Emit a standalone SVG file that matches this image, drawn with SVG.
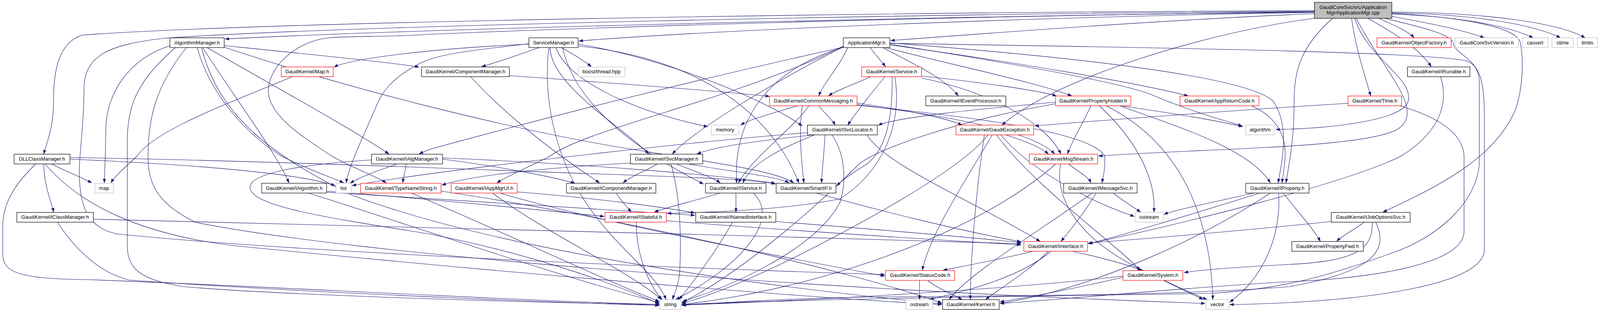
<svg xmlns="http://www.w3.org/2000/svg" width="4385" height="800" viewBox="0 0 4385 800">
<defs>
<style>
.n rect{fill:#fff;stroke:#000;stroke-width:1.2}
.n.r rect{stroke:#ff0000}
.n.g rect{stroke:#bfbfbf}
.n.root rect{fill:#bfbfbf}
.n text{font-family:"Liberation Sans",Arial,sans-serif;font-size:13px;text-anchor:middle;fill:#000}
.e path{fill:none;stroke:#191970;stroke-width:1.1;marker-end:url(#arr)}
</style>
<marker id="arr" markerUnits="userSpaceOnUse" markerWidth="11" markerHeight="8" viewBox="0 0 11 8" refX="10.5" refY="4" orient="auto"><path d="M0,0 L11,4 L0,8 z" fill="#191970"/></marker>
</defs>
<rect x="0" y="0" width="4385" height="800" fill="#fff"/>
<g id="edges" class="e">
<path d="M3365,30 C 2600,40 1200,68 576,100"/>
<path d="M3365,32 C 2800,40 1900,72 1482,105"/>
<path d="M3365,35 C 3000,50 2600,80 2280,104"/>
<path d="M3365,27 C 2200,32 700,55 210,90 C 150,110 137,180 137,260 C 137,330 118,370 112,395"/>
<path d="M3365,29 C 2300,36 900,65 420,98 C 280,115 215,140 215,230 C 215,320 203,390 203,440 C 203,540 230,585 300,600 C 700,640 1500,680 2265,704"/>
<path d="M3365,31 C 2400,40 1400,75 1100,88 C 1000,95 900,92 842,97 C 760,105 687,170 687,233 C 687,300 790,360 849,400 C 900,430 960,450 989,469"/>
<path d="M3530,47 C 3570,65 3605,80 3620,97"/>
<path d="M3563,42 C 3650,58 3740,75 3800,97"/>
<path d="M3563,36 C 3720,42 3850,62 3925,97"/>
<path d="M3563,33 C 3760,36 3920,60 3995,97"/>
<path d="M3563,31 C 3800,32 3990,58 4058,97"/>
<path d="M3502,47 C 3560,80 3630,120 3664,171"/>
<path d="M3460,47 C 3470,120 3490,180 3509,246"/>
<path d="M3365,47 C 3100,80 2700,200 2565,321"/>
<path d="M3468,47 C 3500,150 3620,200 3605,260 C 3590,310 3400,330 3266,332"/>
<path d="M3411,47 C 3330,120 3313,180 3313,260 C 3313,360 3300,420 3292,469"/>
<path d="M3563,34 C 3750,45 3885,70 3892,110 C 3900,150 3900,220 3880,280 C 3830,400 3700,470 3540,544"/>
<path d="M3472,47 C 3540,180 3650,280 3580,330 C 3500,380 3100,380 2812,400"/>
<path d="M3545,47 C 3640,70 3716,88 3720,110 C 3724,140 3787,150 3787,210 L 3787,420 C 3780,520 3680,610 3560,650 C 3420,700 3300,740 3100,752 C 2700,760 2200,762 1745,781"/>
<path d="M2228,122 C 2240,140 2255,155 2267,171"/>
<path d="M2260,122 C 2330,160 2420,200 2453,246"/>
<path d="M2267,122 C 2450,170 2650,210 2744,246"/>
<path d="M2278,115 C 2600,160 2900,210 3042,246"/>
<path d="M2170,122 C 2150,170 2110,210 2096,246"/>
<path d="M2278,113 C 2700,180 2900,220 2958,247 C 3060,290 3140,310 3180,323"/>
<path d="M2159,120 C 2000,200 1780,330 1721,395"/>
<path d="M2278,110 C 2800,150 3200,200 3260,260 C 3300,320 3285,400 3272,469"/>
<path d="M2278,111 C 2800,120 3600,130 3750,155 C 3792,165 3800,220 3800,300 L 3800,640 C 3800,730 3500,775 3148,781"/>
<path d="M2159,118 C 1900,250 1500,330 1409,400 C 1350,430 1300,450 1272,469"/>
<path d="M2159,121 C 1800,200 1400,300 1100,383 C 1090,387 1080,391 1073,395"/>
<path d="M2159,121 C 1900,200 1880,380 1886,469"/>
<path d="M2228,197 C 2190,215 2140,232 2121,246"/>
<path d="M2359,195 C 2500,210 2650,230 2705,246"/>
<path d="M2265,197 C 2230,240 2190,290 2170,321"/>
<path d="M2284,197 C 2285,300 2270,380 2220,420 C 2180,445 2155,462 2142,477"/>
<path d="M2291,197 C 2310,320 2260,440 2150,510 C 2000,540 1800,545 1708,547"/>
<path d="M2359,200 C 2550,240 2680,320 2716,395"/>
<path d="M2043,271 C 1980,290 1920,305 1896,321"/>
<path d="M2096,271 C 2110,290 2130,305 2138,321"/>
<path d="M2194,264 C 2300,280 2420,300 2463,321"/>
<path d="M2054,271 C 2045,330 2050,400 2058,469"/>
<path d="M2071,271 C 2030,330 1930,400 1890,469"/>
<path d="M2194,268 C 2450,300 2650,340 2700,395"/>
<path d="M2194,270 C 2600,310 2800,350 2828,400 C 2830,430 2825,450 2821,469"/>
<path d="M2067,340 C 1700,370 1100,440 901,476"/>
<path d="M2082,346 C 1950,360 1830,375 1784,395"/>
<path d="M2112,346 C 2110,390 2105,430 2103,469"/>
<path d="M2130,346 C 2166,400 2166,470 2150,520 C 2080,650 1850,740 1748,773"/>
<path d="M2220,346 C 2260,420 2500,520 2663,619"/>
<path d="M2085,346 C 2000,380 1920,420 1902,469"/>
<path d="M2575,346 C 2620,360 2665,378 2684,395"/>
<path d="M2540,346 C 2480,450 2380,600 2361,693"/>
<path d="M2520,346 C 2500,480 2485,650 2484,768"/>
<path d="M2551,346 C 2650,480 2850,620 2919,693"/>
<path d="M2530,346 C 2470,420 2300,520 2150,600 C 2000,680 1850,750 1745,778"/>
<path d="M2562,346 C 2640,440 2800,520 2904,555"/>
<path d="M2736,421 C 2760,440 2785,452 2793,469"/>
<path d="M2702,421 C 2500,600 2100,740 1745,781"/>
<path d="M2715,421 C 2700,500 2750,600 2900,680 C 3000,730 3070,760 3090,768"/>
<path d="M2866,271 C 3000,320 3200,380 3252,469"/>
<path d="M2702,262 C 2500,280 2300,300 2248,321"/>
<path d="M2866,271 C 3000,290 3120,310 3182,325"/>
<path d="M2793,271 C 2770,320 2740,370 2733,395"/>
<path d="M2814,271 C 2900,350 2960,450 2954,544"/>
<path d="M2831,271 C 3050,380 3100,600 3105,768"/>
<path d="M2702,266 C 2450,310 2250,380 2200,420 C 2100,520 1900,700 1745,776"/>
<path d="M3203,271 C 3270,300 3292,350 3290,400 C 3289,430 3284,450 3282,469"/>
<path d="M3210,495 C 3100,520 3000,540 2980,550"/>
<path d="M3225,495 C 3050,550 2850,610 2786,625"/>
<path d="M3252,495 C 3080,610 2800,740 2560,778"/>
<path d="M3273,495 C 3280,580 3250,700 3148,775"/>
<path d="M3285,495 C 3320,540 3365,590 3380,619"/>
<path d="M2806,495 C 2780,540 2740,590 2716,619"/>
<path d="M2850,495 C 2875,515 2900,530 2920,544"/>
<path d="M2796,495 C 2680,580 2480,700 2430,768"/>
<path d="M3492,570 C 3465,590 3435,605 3422,619"/>
<path d="M3408,568 C 3200,590 2900,615 2786,623"/>
<path d="M3513,570 C 3515,640 3470,670 3300,678 C 3150,686 3060,694 3031,699"/>
<path d="M3522,570 C 3560,650 3500,700 3300,735 C 3000,760 2500,758 2200,762 C 2000,766 1850,776 1745,783"/>
<path d="M2646,644 C 2560,665 2470,682 2414,693"/>
<path d="M2684,644 C 2640,690 2560,740 2523,768"/>
<path d="M2743,644 C 2820,660 2890,680 2923,693"/>
<path d="M2691,644 C 2600,720 2450,750 2380,768"/>
<path d="M2354,719 L 2354,768"/>
<path d="M2375,719 C 2400,740 2440,755 2463,768"/>
<path d="M2979,719 C 3020,740 3060,758 3080,768"/>
<path d="M2875,711 C 2750,740 2620,765 2560,774"/>
<path d="M2875,708 C 2600,740 2100,770 1745,782"/>
<path d="M1875,570 C 1830,650 1770,730 1738,768"/>
<path d="M1986,568 C 2200,585 2450,605 2614,622"/>
<path d="M1629,570 C 1628,650 1660,730 1695,768"/>
<path d="M1706,566 C 2000,590 2400,615 2614,628"/>
<path d="M1843,495 C 1780,515 1710,530 1675,544"/>
<path d="M1884,495 L 1884,544"/>
<path d="M1928,495 C 2000,560 1900,680 1730,768"/>
<path d="M2090,495 C 2250,540 2450,590 2614,620"/>
<path d="M1577,495 C 1590,515 1605,530 1616,544"/>
<path d="M1261,495 C 1400,600 1620,700 1693,768"/>
<path d="M1324,492 C 1550,510 1720,535 1779,546"/>
<path d="M1279,495 C 1500,560 1900,640 2265,708"/>
<path d="M1053,495 C 1300,600 1550,720 1688,773"/>
<path d="M1129,490 C 1600,560 2200,700 2411,777"/>
<path d="M836,490 C 1100,510 1400,540 1547,555"/>
<path d="M836,493 C 1200,515 1600,540 1779,552"/>
<path d="M789,495 C 1000,560 1400,700 1688,776"/>
<path d="M1040,421 C 1037,440 1033,455 1031,469"/>
<path d="M1015,421 C 960,440 920,455 896,470"/>
<path d="M1133,408 C 1300,430 1420,455 1472,470"/>
<path d="M1133,405 C 1500,420 1850,450 1985,470"/>
<path d="M951,410 C 800,420 640,440 640,480 C 640,530 850,560 1100,600 C 1400,660 1600,740 1688,779"/>
<path d="M1614,418 C 1400,430 1200,450 1131,475"/>
<path d="M1682,421 C 1650,440 1615,452 1595,469"/>
<path d="M1733,421 C 1780,440 1825,455 1844,469"/>
<path d="M1765,421 C 1870,440 1990,452 2020,469"/>
<path d="M1718,421 C 1740,500 1745,600 1740,700 C 1735,740 1725,755 1722,768"/>
<path d="M1304,194 C 1600,215 1850,235 1970,247"/>
<path d="M1205,197 C 1280,280 1400,380 1535,469"/>
<path d="M1354,113 C 1100,125 900,150 855,172"/>
<path d="M1380,122 C 1330,140 1270,160 1233,171"/>
<path d="M1437,122 C 1470,140 1500,160 1514,171"/>
<path d="M1423,122 C 1450,200 1600,280 1812,325"/>
<path d="M1480,113 C 1700,150 1950,250 2054,323"/>
<path d="M1408,122 C 1410,220 1600,330 1661,395"/>
<path d="M1405,122 C 1390,250 1420,400 1500,520 C 1580,640 1680,700 1705,768"/>
<path d="M1354,112 C 1250,125 1130,135 1080,160 C 1000,200 975,240 960,280 C 930,350 895,420 886,469"/>
<path d="M1440,122 C 1480,300 1700,420 1801,472"/>
<path d="M1480,118 C 1800,150 1980,300 2045,469"/>
<path d="M747,197 C 600,260 400,330 351,400 C 320,430 295,450 284,469"/>
<path d="M436,117 C 330,150 272,240 271,330 C 270,400 268,440 267,469"/>
<path d="M449,122 C 360,200 326,260 326,360 L 326,633 C 326,700 380,720 470,735 C 700,755 1300,775 1688,781"/>
<path d="M574,117 C 800,140 1000,160 1073,172"/>
<path d="M530,122 C 700,220 900,330 996,395"/>
<path d="M519,122 C 600,250 700,380 740,469"/>
<path d="M574,121 C 900,230 1300,330 1600,380 C 1850,420 1990,440 2032,469"/>
<path d="M477,122 C 400,220 379,300 379,400 C 379,470 400,520 500,570 C 900,650 2000,740 3085,778"/>
<path d="M505,122 C 540,250 640,350 720,400 C 800,440 850,455 880,469"/>
<path d="M516,122 C 560,300 700,400 900,500 C 1300,650 2000,740 2411,779"/>
<path d="M133,421 C 170,440 210,455 235,469"/>
<path d="M179,408 C 450,420 750,440 858,476"/>
<path d="M112,421 C 113,480 133,520 137,544"/>
<path d="M91,421 C 40,470 7,520 7,580 L 7,650 C 7,700 50,715 224,717 C 600,730 1300,770 1688,781"/>
<path d="M179,404 C 600,410 1100,430 1500,445 C 1800,455 1950,462 1985,472"/>
<path d="M116,421 C 200,520 350,600 600,630 C 1200,690 2000,760 2411,781"/>
<path d="M147,570 C 200,650 260,700 330,718 C 700,745 1300,772 1688,783"/>
<path d="M239,562 C 800,575 1800,600 2614,625"/>
<path d="M3451,265 C 3200,280 2800,310 2649,323"/>
<path d="M3583,271 C 3680,300 3745,340 3748,400 L 3748,593 C 3748,680 3500,715 3285,723 C 3000,740 2700,770 2560,778"/>
<path d="M3688,197 C 3705,250 3700,330 3587,400 C 3450,470 3000,580 2786,625"/>
</g>
<g id="n_root" class="n root"><rect x="3365" y="6" width="198" height="41"/><text x="3464" y="23">GaudiCoreSvc/src/Application</text><text x="3464" y="37">Mgr/ApplicationMgr.cpp</text></g>
<g id="n_algmgr" class="n"><rect x="435" y="97" width="139" height="25"/><text x="504.5" y="113.5">AlgorithmManager.h</text></g>
<g id="n_svcmgr" class="n"><rect x="1354" y="97" width="126" height="25"/><text x="1417" y="113.5">ServiceManager.h</text></g>
<g id="n_appmgrh" class="n"><rect x="2159" y="97" width="119" height="25"/><text x="2218.5" y="113.5">ApplicationMgr.h</text></g>
<g id="n_objfac" class="n r"><rect x="3525" y="97" width="190" height="25"/><text x="3620" y="113.5">GaudiKernel/ObjectFactory.h</text></g>
<g id="n_corever" class="n g"><rect x="3725" y="97" width="162" height="25"/><text x="3806" y="113.5">GaudiCoreSvcVersion.h</text></g>
<g id="n_cassert" class="n g"><rect x="3897" y="97" width="66" height="25"/><text x="3930" y="113.5">cassert</text></g>
<g id="n_ctime" class="n g"><rect x="3973" y="97" width="55" height="25"/><text x="4000.5" y="113.5">ctime</text></g>
<g id="n_limits" class="n g"><rect x="4038" y="97" width="52" height="25"/><text x="4064" y="113.5">limits</text></g>
<g id="n_maph" class="n r"><rect x="720" y="171.6" width="133" height="25"/><text x="786.5" y="188.1">GaudiKernel/Map.h</text></g>
<g id="n_compmgr" class="n"><rect x="1079" y="171.6" width="225" height="25"/><text x="1191.5" y="188.1">GaudiKernel/ComponentManager.h</text></g>
<g id="n_boost" class="n g"><rect x="1480" y="171.6" width="120" height="25"/><text x="1540" y="188.1">boost/thread.hpp</text></g>
<g id="n_service" class="n r"><rect x="2206" y="171.6" width="153" height="25"/><text x="2282.5" y="188.1">GaudiKernel/Service.h</text></g>
<g id="n_irunable" class="n"><rect x="3603" y="171.6" width="160" height="25"/><text x="3683" y="188.1">GaudiKernel/IRunable.h</text></g>
<g id="n_commonmsg" class="n r"><rect x="1970" y="246.2" width="224" height="25"/><text x="2082" y="262.7">GaudiKernel/CommonMessaging.h</text></g>
<g id="n_ievtproc" class="n"><rect x="2370" y="246.2" width="205" height="25"/><text x="2472.5" y="262.7">GaudiKernel/IEventProcessor.h</text></g>
<g id="n_propholder" class="n r"><rect x="2702" y="246.2" width="193" height="25"/><text x="2798.5" y="262.7">GaudiKernel/PropertyHolder.h</text></g>
<g id="n_appret" class="n r"><rect x="3021" y="246.2" width="202" height="25"/><text x="3122" y="262.7">GaudiKernel/AppReturnCode.h</text></g>
<g id="n_time" class="n r"><rect x="3451" y="246.2" width="137" height="25"/><text x="3519.5" y="262.7">GaudiKernel/Time.h</text></g>
<g id="n_memory" class="n g"><rect x="1821" y="320.8" width="70" height="25"/><text x="1856" y="337.3">memory</text></g>
<g id="n_isvcloc" class="n"><rect x="2067" y="320.8" width="179" height="25"/><text x="2156.5" y="337.3">GaudiKernel/ISvcLocator.h</text></g>
<g id="n_gexc" class="n r"><rect x="2447" y="320.8" width="199" height="25"/><text x="2546.5" y="337.3">GaudiKernel/GaudiException.h</text></g>
<g id="n_algorithm" class="n g"><rect x="3189" y="320.8" width="74" height="25"/><text x="3226" y="337.3">algorithm</text></g>
<g id="n_dll" class="n"><rect x="36" y="395.4" width="143" height="25"/><text x="107.5" y="411.9">DLLClassManager.h</text></g>
<g id="n_ialgmgr" class="n"><rect x="951" y="395.4" width="182" height="25"/><text x="1042" y="411.9">GaudiKernel/IAlgManager.h</text></g>
<g id="n_isvcmgr" class="n"><rect x="1614" y="395.4" width="185" height="25"/><text x="1706.5" y="411.9">GaudiKernel/ISvcManager.h</text></g>
<g id="n_msgstream" class="n r"><rect x="2635" y="395.4" width="175" height="25"/><text x="2722.5" y="411.9">GaudiKernel/MsgStream.h</text></g>
<g id="n_map" class="n g"><rect x="243" y="470" width="47" height="25"/><text x="266.5" y="486.5">map</text></g>
<g id="n_ialg" class="n"><rect x="670" y="470" width="166" height="25"/><text x="753" y="486.5">GaudiKernel/IAlgorithm.h</text></g>
<g id="n_list" class="n g"><rect x="860" y="470" width="39" height="25"/><text x="879.5" y="486.5">list</text></g>
<g id="n_tns" class="n r"><rect x="923" y="470" width="206" height="25"/><text x="1026" y="486.5">GaudiKernel/TypeNameString.h</text></g>
<g id="n_iappmgrui" class="n r"><rect x="1155" y="470" width="169" height="25"/><text x="1239.5" y="486.5">GaudiKernel/IAppMgrUI.h</text></g>
<g id="n_icompmgr" class="n"><rect x="1450" y="470" width="229" height="25"/><text x="1564.5" y="486.5">GaudiKernel/IComponentManager.h</text></g>
<g id="n_iservice" class="n"><rect x="1806" y="470" width="155" height="25"/><text x="1883.5" y="486.5">GaudiKernel/IService.h</text></g>
<g id="n_smartif" class="n"><rect x="1987" y="470" width="153" height="25"/><text x="2063.5" y="486.5">GaudiKernel/SmartIF.h</text></g>
<g id="n_imsgsvc" class="n"><rect x="2723" y="470" width="188" height="25"/><text x="2817" y="486.5">GaudiKernel/IMessageSvc.h</text></g>
<g id="n_iproperty" class="n"><rect x="3189" y="470" width="162" height="25"/><text x="3270" y="486.5">GaudiKernel/IProperty.h</text></g>
<g id="n_iclassmgr" class="n"><rect x="43" y="544.6" width="196" height="25"/><text x="141" y="561.1">GaudiKernel/IClassManager.h</text></g>
<g id="n_istateful" class="n r"><rect x="1549" y="544.6" width="157" height="25"/><text x="1627.5" y="561.1">GaudiKernel/IStateful.h</text></g>
<g id="n_inamed" class="n"><rect x="1781" y="544.6" width="205" height="25"/><text x="1883.5" y="561.1">GaudiKernel/INamedInterface.h</text></g>
<g id="n_iostream" class="n g"><rect x="2906" y="544.6" width="72" height="25"/><text x="2942" y="561.1">iostream</text></g>
<g id="n_ijobopt" class="n"><rect x="3408" y="544.6" width="202" height="25"/><text x="3509" y="561.1">GaudiKernel/IJobOptionsSvc.h</text></g>
<g id="n_iinterface" class="n r"><rect x="2621" y="619.2" width="163" height="25"/><text x="2702.5" y="635.7">GaudiKernel/IInterface.h</text></g>
<g id="n_propfwd" class="n"><rect x="3307" y="619.2" width="183" height="25"/><text x="3398.5" y="635.7">GaudiKernel/PropertyFwd.h</text></g>
<g id="n_statuscode" class="n r"><rect x="2267" y="693.8" width="177" height="25"/><text x="2355.5" y="710.3">GaudiKernel/StatusCode.h</text></g>
<g id="n_system" class="n r"><rect x="2875" y="693.8" width="153" height="25"/><text x="2951.5" y="710.3">GaudiKernel/System.h</text></g>
<g id="n_string" class="n g"><rect x="1689" y="768.4" width="54" height="25"/><text x="1716" y="784.9">string</text></g>
<g id="n_ostream" class="n g"><rect x="2319" y="768.4" width="69" height="25"/><text x="2353.5" y="784.9">ostream</text></g>
<g id="n_kernel" class="n"><rect x="2413" y="768.4" width="145" height="25"/><text x="2485.5" y="784.9">GaudiKernel/Kernel.h</text></g>
<g id="n_vector" class="n g"><rect x="3087" y="768.4" width="59" height="25"/><text x="3116.5" y="784.9">vector</text></g>
</svg>
